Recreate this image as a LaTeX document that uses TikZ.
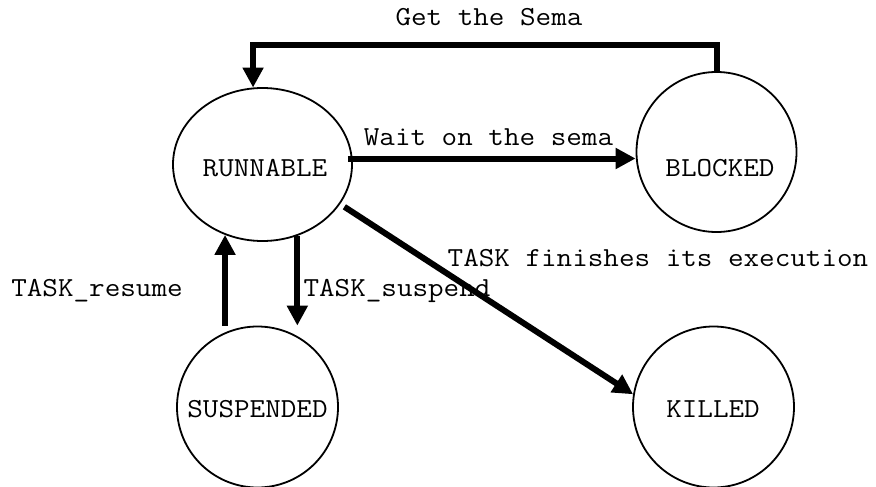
\documentclass[tikz,border=0pt]{standalone}
\usepackage{fontspec}
\setmonofont[FakeStretch=1.1]{Latin Modern Mono}
\usetikzlibrary{arrows.meta,shapes.geometric}
\begin{document}
\begin{tikzpicture}[x=1pt,y=-1pt,
  state/.style={draw,line width=1.8pt,ellipse,inner sep=0pt},
  txt/.style={font=\fontsize{27.5}{30}\selectfont\ttfamily,anchor=base,inner sep=0pt},
  flow/.style={line width=6pt,line join=miter,-{Triangle[length=20pt,width=20pt]}},
]
\useasboundingbox (0,0) rectangle (876,487);

% states
\node[state,minimum width=179pt,minimum height=153pt] (run) at (262.5,164.5) {};
\node[state,minimum width=160pt,minimum height=160pt] (blk) at (716.5,152) {};
\node[state,minimum width=161pt,minimum height=161pt] (sus) at (257.5,407) {};
\node[state,minimum width=161pt,minimum height=161pt] (kil) at (713.5,407) {};

\node[txt] (trun) at (265,176.7) {RUNNABLE};
\node[txt] (tblk) at (720,176) {BLOCKED};
\node[txt] (tsus) at (257.5,417) {SUSPENDED};
\node[txt] (tkil) at (713,417) {KILLED};

% transitions
\draw[flow] (blk.north) -- ++(0,-26) -| (run.97);
\node[txt] (lget) at (489,26) {Get the Sema};

\coordinate (w0) at ([shift={(-5,-6)}]run.east);
\draw[flow] (w0) -- (w0 -| blk.west);
\node[txt] (lwait) at (488.5,145) {Wait on the sema};

\draw[flow] (sus.north -| run.242) -- (run.242);
\node[txt] (lres) at (97,296) {TASK\_resume};

\draw[flow] (run.296) -- (sus.north -| run.296);
\node[txt] (lsusp) at (397,296) {TASK\_suspend};

\draw[flow,shorten <=5pt] (run.333) -- (kil.171);
\node[txt] (lfin) at (658,266) {TASK finishes its execution};
\end{tikzpicture}
\end{document}
